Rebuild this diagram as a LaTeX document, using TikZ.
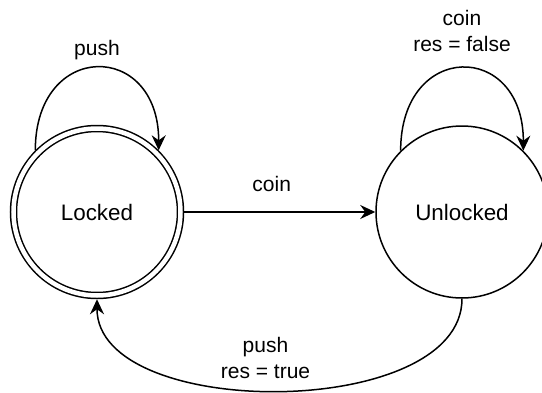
\documentclass[tikz,border=0pt]{standalone}
\usepackage{fontspec}
\setmainfont{Liberation Sans}
\usetikzlibrary{positioning, arrows.meta}

\begin{document}
\begin{tikzpicture}[
    state/.style={draw, circle, line width=0.75pt, minimum size=86pt, font=\fontsize{11.2}{13}\selectfont},
    final/.style={state, minimum size=83.5pt, double, double distance=2.25pt, outer sep=1.875pt},
    lbl/.style={align=center, font=\fontsize{10.5}{13}\selectfont},
    line/.style={-{Stealth[length=7.5pt, width=7pt, inset=2.5pt]}, line width=0.75pt}
  ]
  \useasboundingbox (-48.5pt,-90pt) rectangle (222.5pt,106pt);
  \node[final] (locked) {Locked};
  \node[state, right=95.5pt of locked] (unlocked) {Unlocked};
  \draw[line] (locked) -- node[lbl, above=6.5pt, xshift=-4pt] (coinlbl) {coin} (unlocked);
  % self loops
  \draw[line] (locked.135) .. controls +(0,55pt) and +(0,55pt) .. node[lbl, above=0.3pt] (pushlbl) {push} (locked.45);
  \draw[line] (unlocked.135) .. controls +(0,55pt) and +(0,55pt) .. node[lbl, above=4.5pt] (coinres) {coin\\res = false} (unlocked.45);
  % back to locked
  \draw[line] (unlocked.south) .. controls +(0,-61pt) and +(0,-61pt) .. node[lbl, above=2pt, xshift=-7pt] (pushres) {push\\res = true} (locked.south);
\end{tikzpicture}
\end{document}
